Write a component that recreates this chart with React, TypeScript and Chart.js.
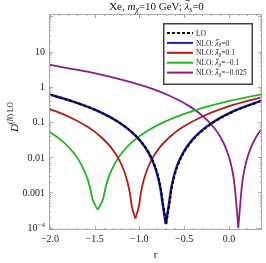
import React, { useEffect, useRef } from 'react';
import { Chart, registerables } from 'chart.js';
Chart.register(...registerables);

// ---- data ----
const rLO = [-2.0, -1.75, -1.45, -1.23, -1.08, -0.97, -0.89, -0.83, -0.79, -0.76, -0.74, -0.70, -0.66, -0.64, -0.61, -0.57, -0.51, -0.43, -0.32, -0.17, 0.05, 0.36];
const dLO = [0.5915, 0.3859, 0.1969, 0.09832, 0.05054, 0.02552, 0.012635, 0.005915, 0.002835, 0.00126, 0.00056, 1.3e-4, 0.00056, 0.00126, 0.002835, 0.005915, 0.012635, 0.02552, 0.05054, 0.09832, 0.1969, 0.3933];

const rBlue = [-2.0, -1.755, -1.455, -1.235, -1.085, -0.975, -0.895, -0.835, -0.795, -0.765, -0.745, -0.705, -0.665, -0.645, -0.615, -0.575, -0.515, -0.435, -0.325, -0.175, 0.045, 0.36];
const dBlue = [0.595, 0.3914, 0.1997, 0.0997, 0.05126, 0.02588, 0.01282, 0.006, 0.002876, 0.001278, 0.000568, 1.25e-4, 0.000568, 0.001278, 0.002876, 0.006, 0.01282, 0.02588, 0.05126, 0.0997, 0.1997, 0.4027];

const rRed = [-2.0, -1.795, -1.575, -1.425, -1.315, -1.235, -1.175, -1.135, -1.105, -1.085, -1.045, -1.005, -0.985, -0.955, -0.915, -0.855, -0.775, -0.665, -0.515, -0.295, 0.005, 0.36];
const dRed = [0.2326, 0.1434, 0.07163, 0.03682, 0.01859, 0.009206, 0.00431, 0.002066, 0.000918, 0.000408, 1.8e-4, 0.000408, 0.000918, 0.002066, 0.00431, 0.009206, 0.01859, 0.03682, 0.07163, 0.1434, 0.2811, 0.5034];

const rGreen = [-2.0, -1.845, -1.735, -1.655, -1.595, -1.555, -1.525, -1.465, -1.405, -1.375, -1.335, -1.275, -1.195, -1.085, -0.935, -0.715, -0.415, -0.015, 0.36];
const dGreen = [0.0521, 0.02628, 0.01327, 0.00657, 0.003076, 0.001474, 0.000655, 3.2e-4, 0.000655, 0.001474, 0.003076, 0.00657, 0.01327, 0.02628, 0.05112, 0.1024, 0.2007, 0.3827, 0.6062];

const rPurple = [-2.0, -1.645, -1.345, -0.945, -0.645, -0.425, -0.275, -0.165, -0.085, -0.025, 0.015, 0.045, 0.065, 0.08, 0.105, 0.13, 0.145, 0.165, 0.195, 0.235, 0.295, 0.36];
const dPurple = [4.165, 2.879, 1.976, 1.0364, 0.5288, 0.264, 0.1357, 0.06853, 0.03393, 0.01589, 0.007614, 0.003384, 0.001504, 0.0005875, 1.0e-4, 0.0005875, 0.001504, 0.003384, 0.007614, 0.01589, 0.03393, 0.06112];

const xTickValues = [-2, -1.5, -1, -0.5, 0];
const xTickLabels = ['−2.0', '−1.5', '−1.0', '−0.5', '0.0'];
const yTickValues = [1e-4, 1e-3, 1e-2, 1e-1, 1, 10];
const yTickLabels = ['10|−4', '0.001', '0.01', '0.1', '1', '10'];
const legendThetas = ['0', '0.1', '−0.1', '−0.025'];

const SERIF = '"Liberation Serif", "Times New Roman", serif';

type Series = { name: string; r: number[]; d: number[]; color: string; width: number; dash?: number[] };
const SERIES: Series[] = [
  { name: 'LO', r: rLO, d: dLO, color: '#000000', width: 2, dash: [3, 2] },
  { name: 'NLO 0', r: rBlue, d: dBlue, color: '#1a1ab4', width: 2.4 },
  { name: 'NLO 0.1', r: rRed, d: dRed, color: '#b41a1a', width: 1.8 },
  { name: 'NLO -0.1', r: rGreen, d: dGreen, color: '#22b422', width: 1.8 },
  { name: 'NLO -0.025', r: rPurple, d: dPurple, color: '#8c1a8c', width: 1.8 },
];

type Run = { t: string; it?: boolean; sz: number; dy?: number; bar?: boolean };
const fontOf = (r: Run) => `${r.it ? 'italic ' : ''}${r.sz}px ${SERIF}`;
function runsWidth(ctx: CanvasRenderingContext2D, runs: Run[]) {
  let w = 0;
  for (const r of runs) { ctx.font = fontOf(r); w += ctx.measureText(r.t).width; }
  return w;
}
function drawRuns(ctx: CanvasRenderingContext2D, runs: Run[], x: number, y: number, align: 'left' | 'center' | 'right') {
  const w = runsWidth(ctx, runs);
  let cx = align === 'center' ? x - w / 2 : align === 'right' ? x - w : x;
  ctx.textAlign = 'left';
  ctx.textBaseline = 'alphabetic';
  for (const r of runs) {
    ctx.font = fontOf(r);
    const yy = y + (r.dy || 0);
    ctx.fillText(r.t, cx, yy);
    const rw = ctx.measureText(r.t).width;
    if (r.bar) {
      ctx.save();
      ctx.lineWidth = Math.max(0.6, r.sz * 0.07);
      ctx.strokeStyle = ctx.fillStyle as string;
      const by = yy - r.sz * 0.8;
      ctx.beginPath();
      ctx.moveTo(cx + r.sz * 0.12, by);
      ctx.lineTo(cx + rw + r.sz * 0.06, by);
      ctx.stroke();
      ctx.restore();
    }
    cx += rw;
  }
}

const decor = {
  id: 'decor',
  afterDraw(chart: any) {
    const ctx: CanvasRenderingContext2D = chart.ctx;
    const { left, right, top, bottom } = chart.chartArea;
    const xs = chart.scales.x;
    const ys = chart.scales.y;
    ctx.save();
    ctx.strokeStyle = '#a8a8a8';
    ctx.lineWidth = 1;
    ctx.strokeRect(left + 0.5, top + 0.5, right - left - 1, bottom - top - 1);
    ctx.beginPath();
    for (let i = -20; i <= 3; i++) {
      const v = i / 10;
      const px = Math.round(xs.getPixelForValue(v)) + 0.5;
      const len = i % 5 === 0 ? 4 : 2;
      ctx.moveTo(px, bottom); ctx.lineTo(px, bottom - len);
      ctx.moveTo(px, top); ctx.lineTo(px, top + len);
    }
    for (let e = -5; e <= 2; e++) {
      for (let m = 1; m <= 9; m++) {
        const v = m * Math.pow(10, e);
        const py = ys.getPixelForValue(v);
        if (py < top || py > bottom) continue;
        const p = Math.round(py) + 0.5;
        const len = m === 1 ? 4 : 2;
        ctx.moveTo(left, p); ctx.lineTo(left + len, p);
        ctx.moveTo(right, p); ctx.lineTo(right - len, p);
      }
    }
    ctx.stroke();

    ctx.fillStyle = '#222';
    xTickValues.forEach((v, i) => {
      drawRuns(ctx, [{ t: xTickLabels[i], sz: 10 }], xs.getPixelForValue(v), 242, 'center');
    });
    yTickValues.forEach((v, i) => {
      const py = ys.getPixelForValue(v);
      const lab = yTickLabels[i];
      const runs: Run[] = lab.includes('|')
        ? [{ t: lab.split('|')[0], sz: 10 }, { t: lab.split('|')[1], sz: 7, dy: -4 }]
        : [{ t: lab, sz: 10 }];
      drawRuns(ctx, runs, left - 4, py + 3.5, 'right');
    });
    ctx.fillStyle = '#111';
    drawRuns(ctx, [{ t: 'r', sz: 11 }], (left + right) / 2, 257.5, 'center');
    ctx.save();
    ctx.translate(17.5, 117);
    ctx.rotate(-Math.PI / 2);
    drawRuns(ctx, [
      { t: 'D', it: true, sz: 11 },
      { t: '(', sz: 7.5, dy: -4.5 },
      { t: 'N', it: true, sz: 7.5, dy: -4.5 },
      { t: ') LO', sz: 7.5, dy: -4.5 },
    ], 0, 0, 'center');
    ctx.restore();
    drawRuns(ctx, [
      { t: 'Xe, ', sz: 11 },
      { t: 'm', it: true, sz: 11 },
      { t: 'χ', it: true, sz: 7.5, dy: 2.5 },
      { t: '=10 GeV; ', sz: 11 },
      { t: 'λ', it: true, sz: 11, bar: true },
      { t: 's', it: true, sz: 7.5, dy: 2.5 },
      { t: '=0', sz: 11 },
    ], (left + right) / 2 + 1, 9.5, 'center');

    const bx = 163, by = 23, bw = 90, bh = 62;
    ctx.fillStyle = '#ffffff';
    ctx.fillRect(bx, by, bw, bh);
    ctx.strokeStyle = '#444';
    ctx.lineWidth = 1.5;
    ctx.strokeRect(bx + 0.75, by + 0.75, bw - 1.5, bh - 1.5);
    SERIES.forEach((s, i) => {
      const y = 33 + i * 9.9;
      ctx.save();
      ctx.strokeStyle = s.color;
      ctx.lineWidth = 2;
      ctx.setLineDash(s.dash || []);
      ctx.beginPath();
      ctx.moveTo(167, y); ctx.lineTo(193, y);
      ctx.stroke();
      ctx.restore();
      ctx.fillStyle = '#222';
      const runs: Run[] = i === 0
        ? [{ t: 'LO', sz: 7.5 }]
        : [
            { t: 'NLO: ', sz: 7.5 },
            { t: 'λ', it: true, sz: 7.5, bar: true },
            { t: 'θ', it: true, sz: 5.5, dy: 1.8 },
            { t: '=' + legendThetas[i - 1], sz: 7.5 },
          ];
      drawRuns(ctx, runs, 196, y + 2.6, 'left');
    });
    ctx.restore();
  },
};

// split each curve at its minimum so the V-shaped dip stays sharp while the arms are smooth
function buildDatasets() {
  const out: any[] = [];
  SERIES.forEach((s) => {
    const pts = s.r.map((r, i) => ({ x: r, y: s.d[i] }));
    let k = 0;
    s.d.forEach((v, i) => { if (v < s.d[k]) k = i; });
    const parts = [pts.slice(0, k + 1), pts.slice(k)];
    parts.forEach((p, j) => {
      out.push({
        label: s.name + (j ? ' R' : ' L'),
        data: p,
        borderColor: s.color,
        borderWidth: s.width,
        borderDash: s.dash || [],
        pointRadius: 0,
        fill: false,
        tension: 0.4,
        cubicInterpolationMode: 'monotone',
        borderJoinStyle: 'round',
      });
    });
  });
  return out;
}

export default function App() {
  const ref = useRef<HTMLCanvasElement | null>(null);
  useEffect(() => {
    if (!ref.current) return;
    const chart = new Chart(ref.current, {
      type: 'line',
      data: { datasets: buildDatasets() },
      options: {
        animation: false,
        responsive: false,
        maintainAspectRatio: false,
        devicePixelRatio: 1,
        events: [],
        layout: { padding: { left: 49, right: 4, top: 14, bottom: 33 } },
        plugins: { legend: { display: false }, title: { display: false }, tooltip: { enabled: false } },
        scales: {
          x: { type: 'linear', min: -2.01, max: 0.37, display: false },
          y: { type: 'logarithmic', min: 8.5e-5, max: 117, display: false },
        },
      },
      plugins: [decor],
    } as any);
    return () => chart.destroy();
  }, []);
  return (
    <div style={{ position: 'fixed', left: 0, top: 0, width: 266, height: 263, background: '#fff' }}>
      <canvas ref={ref} width={266} height={263} style={{ display: 'block', width: 266, height: 263 }} />
    </div>
  );
}
